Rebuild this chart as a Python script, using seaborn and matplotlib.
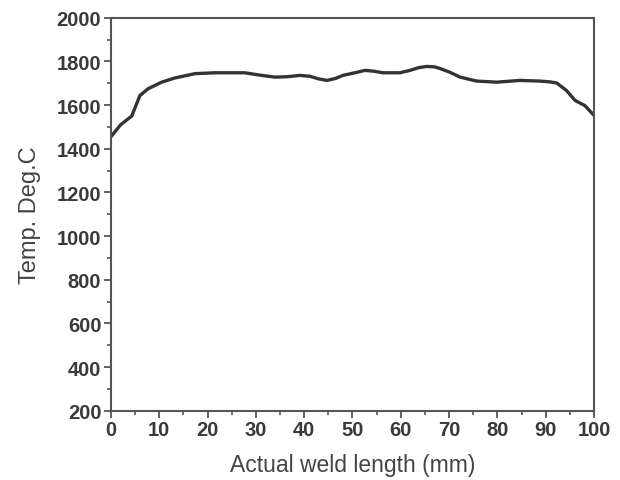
import pandas as pd
import seaborn as sns
import matplotlib.pyplot as plt
from matplotlib.ticker import MultipleLocator

# points
weld_length = [0, 2.0, 4.3, 5.2, 6.0, 7.7, 10.5, 13.2, 15.5, 17.4, 21.5, 27.7, 31.2, 34.0,
               36.5, 39.1, 41.2, 43.0, 44.7, 46.5, 48.0, 50.5, 52.6, 54.5, 56.3, 59.8,
               61.9, 63.8, 65.4, 67.0, 68.1, 70.2, 72.3, 75.7, 79.9, 84.7, 88.8, 91.0,
               92.3, 94.3, 96.1, 98.1, 100]
temperature = [1455, 1510, 1550, 1600, 1644, 1675, 1705, 1724, 1735, 1744, 1748, 1748,
               1736, 1728, 1730, 1736, 1732, 1720, 1713, 1722, 1736, 1748, 1759, 1755,
               1748, 1748, 1759, 1772, 1777, 1775, 1768, 1750, 1728, 1710, 1705, 1713,
               1710, 1706, 1701, 1667, 1621, 1598, 1553]

df = pd.DataFrame({'x': weld_length, 'T': temperature})

sns.set_style('ticks')
plt.rcParams['font.family'] = ['Liberation Sans', 'DejaVu Sans']

fig = plt.figure(figsize=(6.2, 4.81), dpi=100)
ax = fig.add_axes([0.179, 0.144, 0.779, 0.817])

sns.lineplot(data=df, x='x', y='T', color='#333333', linewidth=2.4, ax=ax)

ax.set_xlim(0, 100)
ax.set_ylim(200, 2000)
ax.xaxis.set_major_locator(MultipleLocator(10))
ax.xaxis.set_minor_locator(MultipleLocator(5))
ax.yaxis.set_major_locator(MultipleLocator(200))
ax.yaxis.set_minor_locator(MultipleLocator(100))

for s in ax.spines.values():
    s.set_color('#555555')
    s.set_linewidth(1.5)
ax.tick_params(which='major', direction='out', length=5, width=1.3, color='#555555',
               labelsize=14.5, labelcolor='#3a3a3a', pad=2)
ax.tick_params(which='minor', direction='out', length=3, width=1.2, color='#555555')
for lab in ax.get_xticklabels() + ax.get_yticklabels():
    lab.set_fontweight('bold')

ax.set_xlabel('Actual weld length (mm)', fontsize=16.5, color='#444444', labelpad=10)
ax.set_ylabel('Temp. Deg.C', fontsize=17, color='#444444', labelpad=11)

fig.savefig('out.png', dpi=100)
